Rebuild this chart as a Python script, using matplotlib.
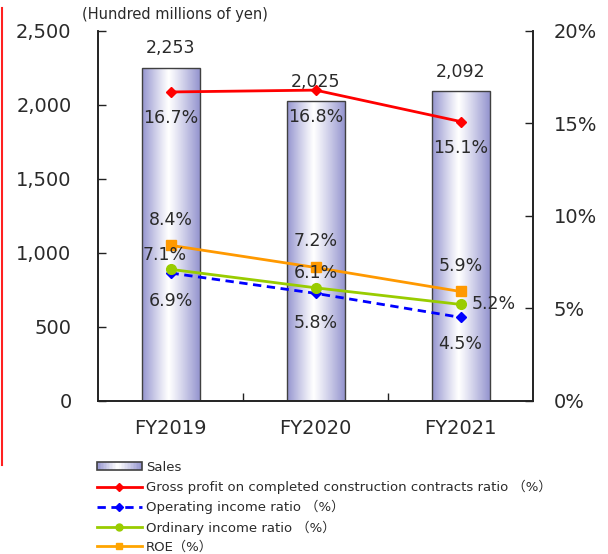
import matplotlib
matplotlib.use("Agg")
import matplotlib.pyplot as plt
import numpy as np
from matplotlib.lines import Line2D
from matplotlib.patches import Rectangle
from matplotlib.legend_handler import HandlerPatch

categories = ["FY2019", "FY2020", "FY2021"]
sales = [2253, 2025, 2092]
gross_profit = [16.7, 16.8, 15.1]
operating = [6.9, 5.8, 4.5]
ordinary = [7.1, 6.1, 5.2]
roe = [8.4, 7.2, 5.9]
left_ticks = [0, 500, 1000, 1500, 2000, 2500]
right_ticks = [0, 5, 10, 15, 20]

plt.rcParams['font.family'] = ['DejaVu Sans']
TXT = '#2a2a2a'

fig = plt.figure(figsize=(6.08, 5.54), dpi=100)
L, R, B, T = 98/608, 533/608, 1-400.5/554, 1-31/554
ax = fig.add_axes([L, B, R-L, T-B])
ax2 = ax.twinx()

x = np.arange(len(categories))
bars = ax.bar(x, sales, width=0.40, facecolor='none', edgecolor='#404040', linewidth=1.0, zorder=3)

edge = np.array([0.58, 0.58, 0.81])
white = np.array([1.0, 1.0, 1.0])
t = np.linspace(0, 1, 256)
peak = 0.46
w = np.where(t < peak, (peak - t) / peak, (t - peak) / (1 - peak))
w = np.clip(w, 0, 1) ** 1.1
grad = (white[None, :] * (1 - w[:, None]) + edge[None, :] * w[:, None])
grad_img = grad[None, :, :]
for b in bars:
    x0, y0 = b.get_x(), b.get_y()
    im = ax.imshow(grad_img, extent=(x0, x0 + b.get_width(), y0, y0 + b.get_height()),
                   aspect='auto', zorder=2, interpolation='bilinear')
    im.set_clip_path(b)

ax.set_xlim(-0.5, 2.5)
ax.set_ylim(0, 2500)
ax2.set_ylim(0, 20)

fs = 12.5
for xi, v in zip(x, sales):
    ax.annotate(f"{v:,}", (xi, v), xytext=(0, 14), textcoords='offset points',
                ha='center', va='center', fontsize=fs, color=TXT)

ax.set_yticks(left_ticks)
ax.set_yticklabels([f"{v:,}" for v in left_ticks])
ax2.set_yticks(right_ticks)
ax2.set_yticklabels([f"{v}%" for v in right_ticks])
ax.set_xticks(x)
ax.set_xticklabels(categories)
ax.set_xticks([0.5, 1.5], minor=True)
ax.tick_params(axis='x', which='major', length=0, pad=13, labelsize=14)
ax.tick_params(axis='x', which='minor', direction='in', length=6, width=1)
ax.tick_params(axis='y', direction='in', length=6, width=1, pad=19, labelsize=14)
ax2.tick_params(axis='y', direction='in', length=6, width=1, pad=15, labelsize=14)
for a in (ax, ax2):
    a.spines['top'].set_visible(False)
    for s in ('left', 'right', 'bottom'):
        a.spines[s].set_linewidth(1.2)
        a.spines[s].set_color('#222222')
ax.tick_params(axis='both', which='both', colors='#222222', labelcolor=TXT)
ax2.tick_params(axis='y', colors='#222222', labelcolor=TXT)

lw = 2.0
l1, = ax2.plot(x, gross_profit, color='#ff0000', lw=lw, marker='D', ms=5, zorder=5)
l2, = ax2.plot(x, operating, color='#0000ff', lw=lw, ls=(0, (3, 2)), marker='D', ms=5, zorder=5)
l3, = ax2.plot(x, ordinary, color='#99cc00', lw=lw, marker='o', ms=7, zorder=5)
l4, = ax2.plot(x, roe, color='#ff9900', lw=lw, marker='s', ms=7, zorder=5)

for xi, v in zip(x, gross_profit):
    ax2.annotate(f"{v}%", (xi, v), xytext=(0, -19), textcoords='offset points',
                 ha='center', va='center', fontsize=fs, color=TXT, zorder=6)
roe_off = [(0, 18), (0, 19), (0, 18)]
for xi, v, off in zip(x, roe, roe_off):
    ax2.annotate(f"{v}%", (xi, v), xytext=off, textcoords='offset points',
                 ha='center', va='center', fontsize=fs, color=TXT, zorder=6)
op_off = [(0, -20), (0, -21), (0, -19)]
for xi, v, off in zip(x, operating, op_off):
    ax2.annotate(f"{v}%", (xi, v), xytext=off, textcoords='offset points',
                 ha='center', va='center', fontsize=fs, color=TXT, zorder=6)
ord_off = [(-4, 10), (0, 11), (24, 0)]
for xi, v, off in zip(x, ordinary, ord_off):
    ax2.annotate(f"{v}%", (xi, v), xytext=off, textcoords='offset points',
                 ha='center', va='center', fontsize=fs, color=TXT, zorder=6)

fig.text(82/608, 1-15/554, "(Hundred millions of yen)", fontsize=10.5, color=TXT,
         ha='left', va='center')

# red border line at left edge
fig.add_artist(Line2D([2/608, 2/608], [1-8/554, 1-465/554], transform=fig.transFigure,
                      color='#ff2020', lw=1.5))


class GradHandler(HandlerPatch):
    def create_artists(self, legend, orig_handle, xdescent, ydescent, width, height, fontsize, trans):
        arts = []
        n = 30
        h = height * 0.85
        y0 = -ydescent + (height - h) / 2
        for i in range(n):
            c = grad[int(i * 255 / (n - 1))]
            r = Rectangle((-xdescent + width * i / n, y0), width / n + 0.3, h,
                          facecolor=c, edgecolor='none', transform=trans)
            arts.append(r)
        arts.append(Rectangle((-xdescent, y0), width, h, facecolor='none',
                              edgecolor='#404040', lw=1.2, transform=trans))
        return arts


sales_handle = Rectangle((0, 0), 1, 1, facecolor='#b0b0d8', edgecolor='#404040')
h1 = Line2D([], [], color='#ff0000', lw=lw, marker='D', ms=4)
h2 = Line2D([], [], color='#0000ff', lw=lw, ls=(0, (3, 2)), marker='D', ms=4)
h3 = Line2D([], [], color='#99cc00', lw=lw, marker='o', ms=5)
h4 = Line2D([], [], color='#ffa500', lw=lw, marker='s', ms=5)
handles = [sales_handle, h1, h2, h3, h4]
labels = ["Sales",
          "Gross profit on completed construction contracts ratio （%）",
          "Operating income ratio （%）",
          "Ordinary income ratio （%）",
          "ROE（%）"]
leg = fig.legend(handles, labels, loc='upper left', bbox_to_anchor=(97/608, 1-461/554),
                 frameon=False, fontsize=9.5, handlelength=3.4, handletextpad=0.3,
                 labelspacing=0.45, borderaxespad=0, borderpad=0,
                 handler_map={Rectangle: GradHandler()})
for txt in leg.get_texts():
    txt.set_color(TXT)
    txt.set_family(['DejaVu Sans', 'Noto Sans CJK JP'])

fig.savefig("out.png", dpi=100)
